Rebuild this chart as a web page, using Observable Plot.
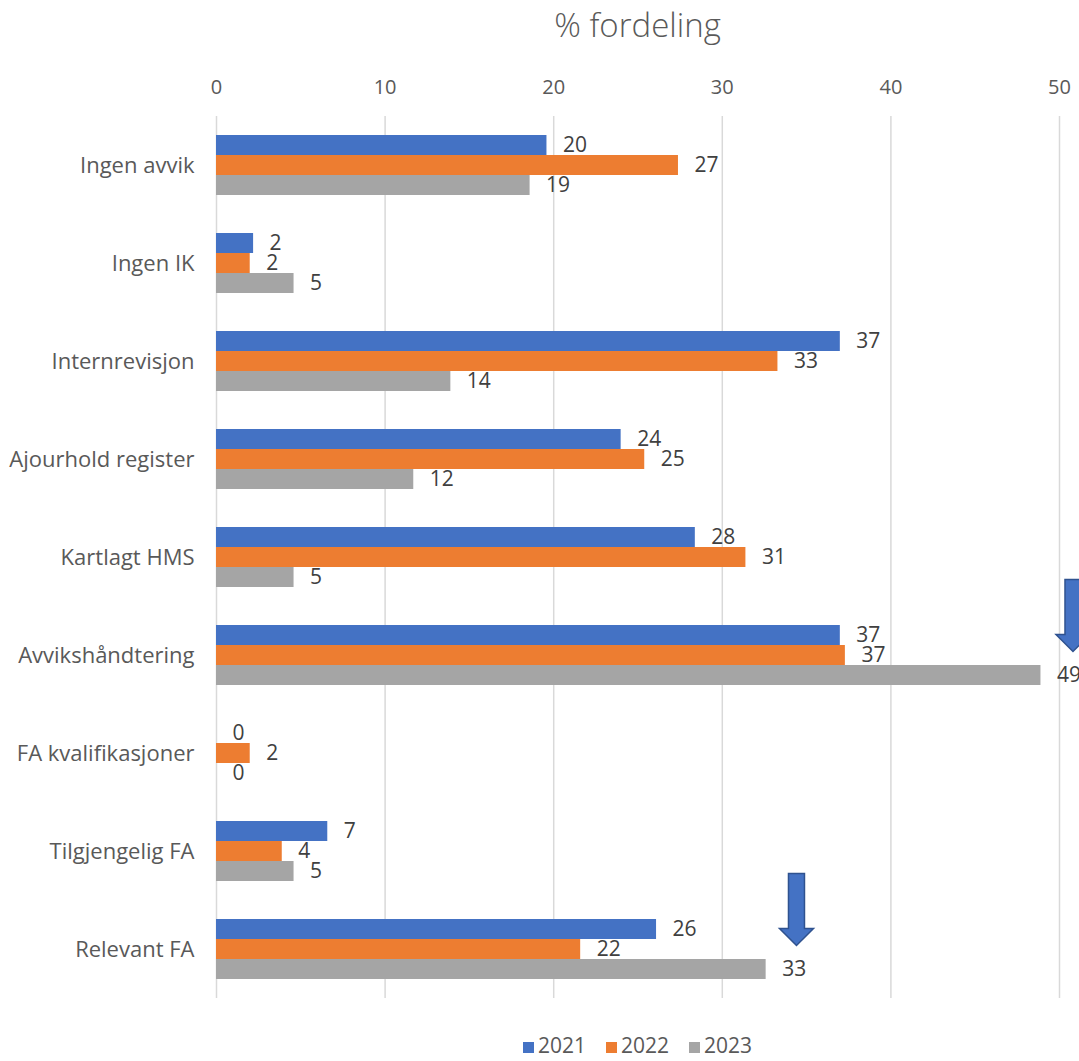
<!DOCTYPE html>
<html><head><meta charset="utf-8">
<script src="https://cdn.jsdelivr.net/npm/d3@7"></script>
<script src="https://cdn.jsdelivr.net/npm/@observablehq/plot@0.6"></script>
<style>
body{margin:0;background:#fff;font-family:"Open Sans","Noto Sans",sans-serif;overflow:hidden}
#title{height:56px;line-height:50px;font-size:33px;color:#595959;text-align:center;padding-left:216px;padding-right:20px;font-weight:300}
#chart{height:970px}
#legend{display:flex;justify-content:center;align-items:center;gap:20px;padding-left:216px;padding-right:20px;font-size:21px;color:#595959;line-height:26px;height:26px;margin-top:6px}
#legend span.sw{display:inline-block;width:11px;height:11px;margin-right:4px}
</style></head><body>
<div id="title">% fordeling</div>
<div id="chart"></div>
<div id="legend"></div>
<script>
const categories = ["Ingen avvik","Ingen IK","Internrevisjon","Ajourhold register","Kartlagt HMS","Avvikshåndtering","FA kvalifikasjoner","Tilgjengelig FA","Relevant FA"];
const years = ["2021","2022","2023"];
const values2021 = [19.6, 2.2, 37.0, 24.0, 28.4, 37.0, 0, 6.6, 26.1];
const values2022 = [27.4, 2.0, 33.3, 25.4, 31.4, 37.3, 2.0, 3.9, 21.6];
const values2023 = [18.6, 4.6, 13.9, 11.7, 4.6, 48.9, 0, 4.6, 32.6];
const xTicks = [0, 10, 20, 30, 40, 50];
const colors = ["#4472C4", "#ED7D31", "#A5A5A5"];
// annotation arrows (pointing down), anchored at category / year row / x value
const arrowCategories = ["Relevant FA", "Avvikshåndtering"];
const arrowX = [34.4, 50.8];
const arrowYear = ["2022", "2022"];

const series = [values2021, values2022, values2023];
const rows = [];
categories.forEach((c, i) => years.forEach((y, j) => rows.push({category: c, year: y, value: series[j][i]})));
const arrows = arrowCategories.map((c, i) => ({category: c, x: arrowX[i], year: arrowYear[i]}));

const arrowSymbol = {
  draw(ctx) {
    ctx.moveTo(-8, -72); ctx.lineTo(8, -72); ctx.lineTo(8, -17); ctx.lineTo(17, -17);
    ctx.lineTo(0, 0); ctx.lineTo(-17, -17); ctx.lineTo(-8, -17); ctx.closePath();
  }
};

const chart = Plot.plot({
  width: 1079,
  height: 970,
  marginLeft: 216,
  marginRight: 20,
  marginTop: 60,
  marginBottom: 28,
  style: {fontFamily: "'Open Sans', 'Noto Sans', sans-serif", color: "#595959", background: "#fff", overflow: "visible", display: "block"},
  x: {domain: [0, 50]},
  y: {domain: years, axis: null, paddingInner: 0, paddingOuter: 0.95},
  fy: {domain: categories, padding: 0},
  color: {domain: years, range: colors},
  marks: [
    Plot.ruleX(xTicks, {stroke: "#d9d9d9", strokeWidth: 1.5}),
    Plot.axisX(xTicks, {anchor: "top", tickSize: 0, tickPadding: 23, fontSize: 20, label: null, fill: "#595959"}),
    Plot.axisFy({anchor: "left", tickSize: 0, tickPadding: 22, fontSize: 22, label: null, fill: "#595959"}),
    Plot.barX(rows, {x: "value", y: "year", fy: "category", fill: "year"}),
    Plot.text(rows, {x: "value", y: "year", fy: "category", text: d => d3.format(".0f")(d.value), textAnchor: "start", dx: 16, fontSize: 21, fill: "#404040"}),
    Plot.dot(arrows, {x: "x", y: "year", fy: "category", symbol: arrowSymbol, fill: "#4472C4", stroke: "#2F528F", strokeWidth: 1.5, dy: -4})
  ]
});
document.getElementById("chart").appendChild(chart);

const legend = document.getElementById("legend");
years.forEach((y, i) => {
  const item = document.createElement("div");
  item.innerHTML = `<span class="sw" style="background:${colors[i]}"></span>${y}`;
  legend.appendChild(item);
});
</script>
</body></html>
